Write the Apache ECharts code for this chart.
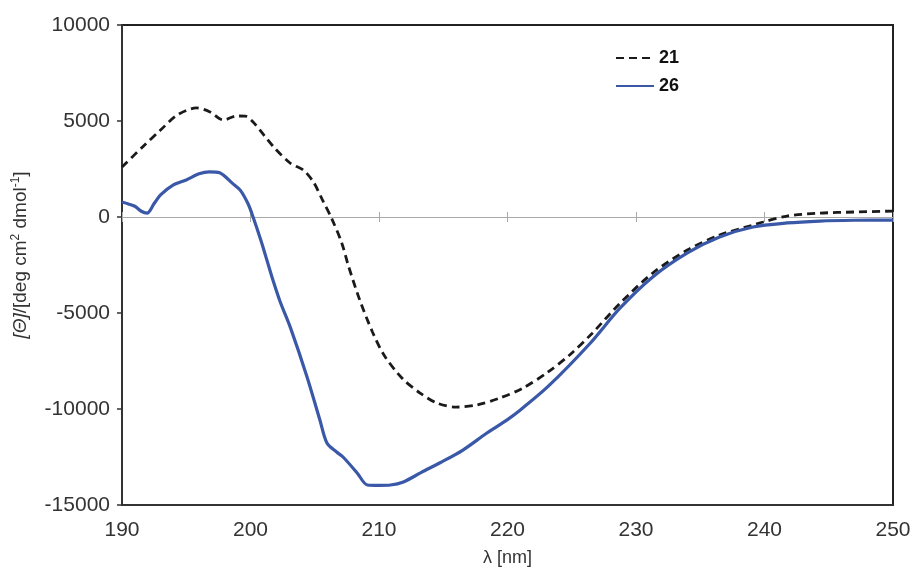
<!DOCTYPE html>
<html>
<head>
<meta charset="utf-8">
<script src="https://cdn.jsdelivr.net/npm/echarts@6/dist/echarts.min.js"></script>
<style>html,body{margin:0;padding:0;background:#fff;}#c{width:914px;height:572px;}</style>
</head>
<body>
<div id="c"></div>
<script>
// wavelength (nm) and molar ellipticity values
const lambda26 = [190,190.5,191,191.5,191.95,192.5,193,194,195,196,196.8,197.6,198.6,199.2,199.8,200.2,200.8,201.3,201.75,202.3,203.1,204.4,205.4,205.95,206.7,207.2,208.3,209.1,210,210.9,211.9,213.3,214.75,216.5,218.4,220,221,223.2,226.4,228.75,231.3,234,236.5,239.1,241.75,244.3,247,250];
const theta26  = [780,680,560,300,200,700,1150,1670,1930,2250,2350,2300,1750,1400,700,0,-1200,-2300,-3300,-4400,-5750,-8330,-10570,-11770,-12240,-12500,-13330,-13960,-13980,-13960,-13800,-13300,-12800,-12150,-11250,-10550,-10050,-8800,-6600,-4750,-3120,-1870,-1040,-520,-310,-210,-170,-160];
const lambda21 = [190,191.6,193,194.3,195.8,196.85,197.9,198.9,199.6,200.2,201,201.8,203.1,204.1,204.9,205.6,206.3,207.1,207.6,208.5,209.5,210.4,211.8,213.2,214.5,216,217.6,219.4,221.2,223.1,224.9,226.6,228.75,231.3,234,236.5,239.1,239.9,241.75,244.3,247,250];
const theta21  = [2600,3650,4530,5310,5680,5470,5050,5260,5250,4950,4300,3650,2800,2450,1820,890,-50,-1350,-2500,-4320,-6000,-7200,-8400,-9170,-9690,-9900,-9790,-9430,-8910,-8100,-7150,-6050,-4500,-2920,-1720,-940,-420,-260,50,200,260,310];
const seriesNames = ['21','26'];
const xTicks = [190,200,210,220,230,240,250];
const yTicks = [-15000,-10000,-5000,0,5000,10000];

const zip = (a,b) => a.map((v,i)=>[v,b[i]]);
const FONT = 'Liberation Sans, Arial, Helvetica, sans-serif';
const chart = echarts.init(document.getElementById('c'));
const xBase = {type:'value', min:xTicks[0], max:xTicks[xTicks.length-1], interval:10, splitLine:{show:false}};
const yBase = {type:'value', min:yTicks[0], max:yTicks[yTicks.length-1], interval:5000, splitLine:{show:false}};
chart.setOption({
  animation:false,
  backgroundColor:'#fff',
  grid:{left:122, right:21, top:25, bottom:67, show:true, borderColor:'#222', borderWidth:2, backgroundColor:'transparent'},
  legend:{
    orient:'vertical', left:610, top:44, itemWidth:38, itemHeight:14, itemGap:10,
    data:seriesNames,
    itemStyle:{opacity:0},
    textStyle:{fontFamily:FONT, fontSize:18, fontWeight:'bold', color:'#111'}
  },
  xAxis:[
    Object.assign({}, xBase, {
      position:'bottom',
      axisLine:{onZero:false, lineStyle:{color:'#333', width:2}},
      axisTick:{show:false},
      axisLabel:{fontFamily:FONT, fontSize:21, color:'#333', margin:15, formatter:v=>String(v)},
      name:'λ [nm]', nameLocation:'middle', nameGap:44,
      nameTextStyle:{fontFamily:FONT, fontSize:18, color:'#333'}
    }),
    Object.assign({}, xBase, {
      position:'bottom',
      axisLine:{onZero:true, onZeroAxisIndex:0, lineStyle:{color:'#aaa', width:1}},
      axisTick:{show:true, length:5, lineStyle:{color:'#aaa', width:1}},
      axisLabel:{show:false}
    }),
    Object.assign({}, xBase, {
      position:'top',
      axisLine:{show:true, onZero:true, onZeroAxisIndex:1, lineStyle:{color:'#aaa', width:1}},
      axisTick:{show:true, length:5, lineStyle:{color:'#aaa', width:1}},
      axisLabel:{show:false}
    })
  ],
  yAxis:[
    Object.assign({}, yBase, {
      axisLine:{show:true, onZero:false, lineStyle:{color:'#333', width:2}},
      axisTick:{show:true, length:5, lineStyle:{color:'#333', width:1.5}},
      axisLabel:{fontFamily:FONT, fontSize:21, color:'#333', margin:12, formatter:v=>String(v)},
      name:'{it|[Θ]}/[deg cm{sup|2} dmol{sup|-1}]', nameLocation:'middle', nameGap:91,
      nameTextStyle:{fontFamily:FONT, fontSize:19, color:'#333', padding:[0,0,0,20],
        rich:{it:{fontFamily:FONT, fontSize:19, fontStyle:'italic', color:'#333'},
              sup:{fontFamily:FONT, fontSize:12, color:'#333', verticalAlign:'top', padding:[0,0,9,0]}}}
    }),
    Object.assign({}, yBase, {show:false, axisLine:{show:false, onZero:false}})
  ],
  series:[
    {name:seriesNames[0], type:'line', data:zip(lambda21, theta21), smooth:0.3, symbol:'none',
     xAxisIndex:0, yAxisIndex:0,
     lineStyle:{color:'#1a1a1a', width:2.8, type:[8,5]}, itemStyle:{color:'#1a1a1a'}, z:3},
    {name:seriesNames[1], type:'line', data:zip(lambda26, theta26), smooth:0.3, symbol:'none',
     xAxisIndex:0, yAxisIndex:0,
     lineStyle:{color:'#3a58a8', width:3.2}, itemStyle:{color:'#3a58a8'}, z:4}
  ]
});
</script>
</body>
</html>
